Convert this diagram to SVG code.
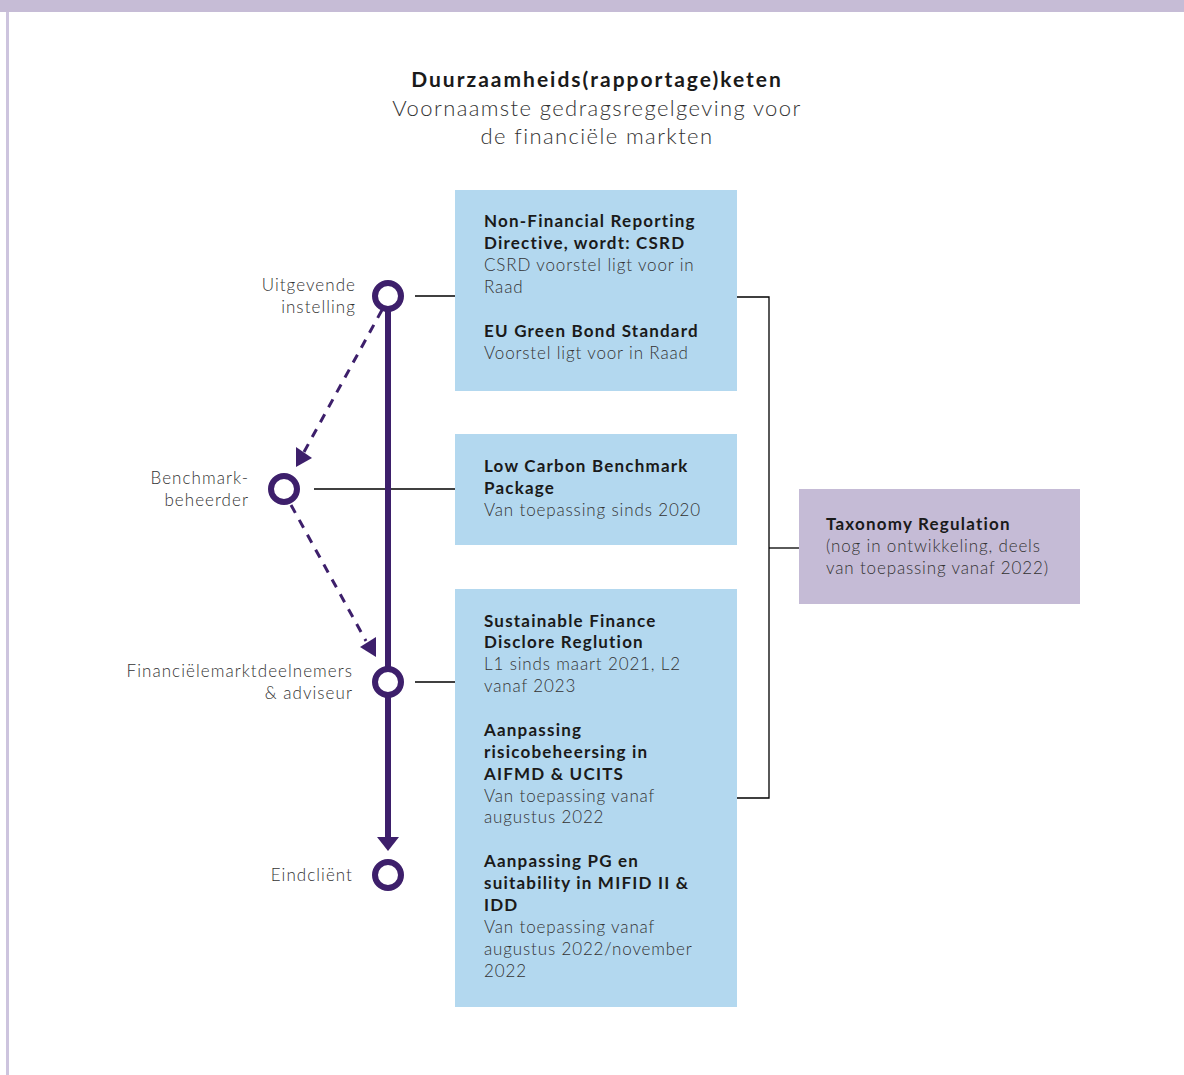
<svg xmlns="http://www.w3.org/2000/svg" width="1184" height="1075" viewBox="0 0 1184 1075">
<style>
text{font-family:Lato,"Liberation Sans",sans-serif;fill:#1a1a1a}
.lbl{font-size:17px;font-weight:300;fill:#333;text-anchor:end;letter-spacing:1.05px}
.b{font-size:17px;font-weight:700;letter-spacing:1.2px}
.n{font-size:17px;font-weight:300;fill:#333;letter-spacing:0.85px}
.blue{fill:#b3d8ef}
.conn{stroke:#000;stroke-width:1.3;fill:none}
.ring{fill:#fff;stroke:#3d1f6b;stroke-width:6}
.dash{stroke:#3d1f6b;stroke-width:3;stroke-dasharray:9 8;fill:none}
</style>
<rect x="0" y="0" width="1184" height="12" fill="#c6bcd6"/>
<rect x="6" y="12" width="3" height="1063" fill="#cdc4de"/>
<g id="title">
<text x="597" y="87" text-anchor="middle" style="font-size:21px;font-weight:700;letter-spacing:2px">Duurzaamheids(rapportage)keten</text>
<text x="597" y="116" text-anchor="middle" style="font-size:22px;font-weight:300;fill:#333;letter-spacing:1.4px">Voornaamste gedragsregelgeving voor</text>
<text x="597" y="144" text-anchor="middle" style="font-size:22px;font-weight:300;fill:#333;letter-spacing:1.4px">de financiële markten</text>
</g>
<g id="connectors">
<line class="conn" x1="415" y1="296" x2="455" y2="296"/>
<line class="conn" x1="314" y1="489" x2="455" y2="489"/>
<line class="conn" x1="415" y1="682" x2="455" y2="682"/>
<polyline class="conn" points="737,297 769,297 769,798 737,798"/>
<line class="conn" x1="769" y1="548" x2="799" y2="548"/>
<line x1="388" y1="296" x2="388" y2="838" stroke="#3d1f6b" stroke-width="6"/>
<path d="M377,837 L399,837 L388,851 Z" fill="#3d1f6b"/>
<line class="dash" x1="382" y1="310" x2="304" y2="452"/>
<path d="M296,467 L296,447 L312,458 Z" fill="#3d1f6b"/>
<line class="dash" x1="291" y1="505" x2="366" y2="641"/>
<path d="M376,657 L360,647 L376,637 Z" fill="#3d1f6b"/>
</g>
<g id="node-uitgevende">
<circle class="ring" cx="388" cy="296" r="13"/>
<text class="lbl" x="356" y="291">Uitgevende</text>
<text class="lbl" x="356" y="313">instelling</text>
</g>
<g id="node-benchmark">
<circle class="ring" cx="284" cy="489" r="13"/>
<text class="lbl" x="249" y="484">Benchmark-</text>
<text class="lbl" x="249" y="506">beheerder</text>
</g>
<g id="node-financieel">
<circle class="ring" cx="388" cy="682" r="13"/>
<text class="lbl" x="353" y="677">Financiëlemarktdeelnemers</text>
<text class="lbl" x="353" y="699">&amp; adviseur</text>
</g>
<g id="node-eindclient">
<circle class="ring" cx="388" cy="875" r="13"/>
<text class="lbl" x="353" y="881">Eindcliënt</text>
</g>
<g id="box-csrd">
<rect class="blue" x="455" y="190" width="282" height="201"/>
<text class="b" x="484" y="227">Non-Financial Reporting</text>
<text class="b" x="484" y="249">Directive, wordt: CSRD</text>
<text class="n" x="484" y="271">CSRD voorstel ligt voor in</text>
<text class="n" x="484" y="293">Raad</text>
<text class="b" x="484" y="337">EU Green Bond Standard</text>
<text class="n" x="484" y="359">Voorstel ligt voor in Raad</text>
</g>
<g id="box-benchmark">
<rect class="blue" x="455" y="434" width="282" height="111"/>
<text class="b" x="484" y="472">Low Carbon Benchmark</text>
<text class="b" x="484" y="494">Package</text>
<text class="n" x="484" y="516">Van toepassing sinds 2020</text>
</g>
<g id="box-sfdr">
<rect class="blue" x="455" y="589" width="282" height="418"/>
<text class="b" x="484" y="627">Sustainable Finance</text>
<text class="b" x="484" y="648">Disclore Reglution</text>
<text class="n" x="484" y="670">L1 sinds maart 2021, L2</text>
<text class="n" x="484" y="692">vanaf 2023</text>
<text class="b" x="484" y="736">Aanpassing</text>
<text class="b" x="484" y="758">risicobeheersing in</text>
<text class="b" x="484" y="780">AIFMD &amp; UCITS</text>
<text class="n" x="484" y="802">Van toepassing vanaf</text>
<text class="n" x="484" y="823">augustus 2022</text>
<text class="b" x="484" y="867">Aanpassing PG en</text>
<text class="b" x="484" y="889">suitability in MIFID II &amp;</text>
<text class="b" x="484" y="911">IDD</text>
<text class="n" x="484" y="933">Van toepassing vanaf</text>
<text class="n" x="484" y="955">augustus 2022/november</text>
<text class="n" x="484" y="977">2022</text>
</g>
<g id="box-taxonomy">
<rect x="799" y="489" width="281" height="115" fill="#c5bbd6"/>
<text class="b" x="826" y="530">Taxonomy Regulation</text>
<text class="n" x="826" y="552">(nog in ontwikkeling, deels</text>
<text class="n" x="826" y="574">van toepassing vanaf 2022)</text>
</g>
</svg>
